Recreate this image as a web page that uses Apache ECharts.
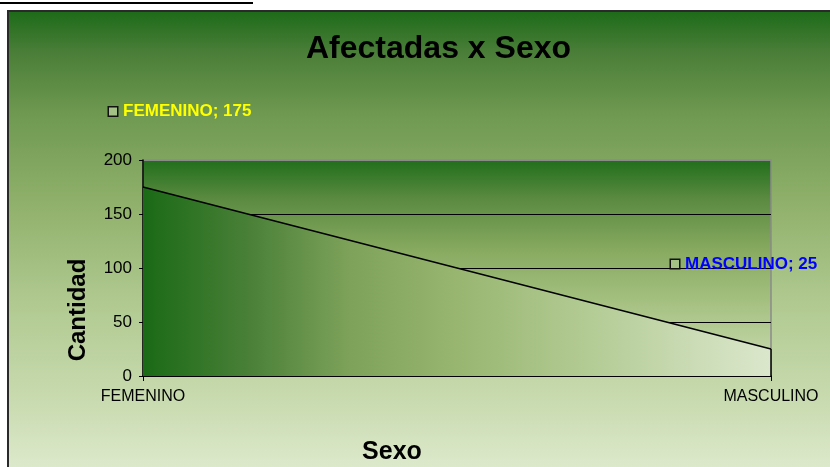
<!DOCTYPE html>
<html>
<head>
<meta charset="utf-8">
<script src="https://cdn.jsdelivr.net/npm/echarts@6/dist/echarts.min.js"></script>
<style>
html,body{margin:0;padding:0;background:#fff;width:830px;height:467px;overflow:hidden;}
#topline{position:absolute;left:0;top:2px;width:253px;height:2px;background:#000;}
#frame{position:absolute;left:7px;top:10px;width:840px;height:470px;box-sizing:border-box;border:2px solid #2a2a2a;
background:linear-gradient(to bottom,#1e6b1a 0px,#4a7e38 40px,#6e9850 100px,#8fb06a 190px,#b0c990 290px,#c9dbb0 390px,#dde9cc 457px);}
#chart{position:absolute;left:0;top:0;width:830px;height:467px;}
</style>
</head>
<body>
<div id="topline"></div>
<div id="frame"></div>
<div id="chart"></div>
<script>
const titleText = 'Afectadas x Sexo';
const xAxisName = 'Sexo';
const yAxisName = 'Cantidad';
const categories = ['FEMENINO', 'MASCULINO'];
const values = [175, 25];
const yTicks = [0, 50, 100, 150, 200];

const labelColors = ['#ffff00', '#0000ff'];
const labelOffsets = [[-34, -75.5], [-100, -85]];

const chart = echarts.init(document.getElementById('chart'), null, {renderer: 'canvas'});

const seriesData = values.map((v, i) => ({
  value: v,
  label: {
    show: true,
    position: 'inside',
    align: 'left',
    verticalAlign: 'middle',
    offset: labelOffsets[i],
    formatter: '{box|}{sp|}{t|' + categories[i] + '; ' + v + '}',
    rich: {
      box: {width: 8, height: 8, borderColor: '#111', borderWidth: 1.5, backgroundColor: '#a4c286'},
      sp: {width: 6},
      t: {color: labelColors[i], fontFamily: 'Liberation Sans, Arial, sans-serif', fontWeight: 'bold', fontSize: 17}
    }
  }
}));

const last = categories.length - 1;

const option = {
  animation: false,
  backgroundColor: 'transparent',
  title: {
    text: titleText,
    left: 306, top: 33, padding: 0,
    textStyle: {fontFamily: 'Liberation Sans, Arial, sans-serif', fontWeight: 'bold', fontSize: 32, color: '#000'}
  },
  grid: {
    left: 143, right: 59, top: 160, bottom: 91,
    show: true,
    borderColor: '#8a8a8a', borderWidth: 1.5,
    backgroundColor: new echarts.graphic.LinearGradient(0, 0, 0, 1, [
      {offset: 0, color: '#1f6e1b'},
      {offset: 0.18, color: '#5a8a40'},
      {offset: 0.42, color: '#87aa60'},
      {offset: 0.65, color: '#a4c080'},
      {offset: 0.88, color: '#c0d4a4'},
      {offset: 1, color: '#cddcb8'}
    ])
  },
  xAxis: {
    type: 'category',
    data: categories,
    boundaryGap: false,
    axisLine: {show: true, lineStyle: {color: '#000', width: 1.5}},
    axisTick: {show: true, length: 5, lineStyle: {color: '#000'}},
    axisLabel: {color: '#000', fontFamily: 'Liberation Sans Narrow, Arial Narrow, Liberation Sans, sans-serif', fontSize: 16, margin: 13},
    splitLine: {show: false}
  },
  yAxis: {
    type: 'value',
    min: 0, max: 200, interval: 50,
    axisLine: {show: true, lineStyle: {color: '#000', width: 1.5}},
    axisTick: {show: true, length: 4, lineStyle: {color: '#000'}},
    axisLabel: {color: '#000', fontFamily: 'Liberation Sans, Arial, sans-serif', fontSize: 17, margin: 11,
      formatter: v => (yTicks.indexOf(v) >= 0 ? String(v) : '')},
    splitLine: {show: true, lineStyle: {color: ['#000', '#000', '#000', '#000', '#8a8a8a'], width: 1}}
  },
  graphic: [
    {type: 'text', x: 78, y: 310, rotation: Math.PI / 2, z: 10,
      style: {text: yAxisName, fill: '#000', font: 'bold 24px Liberation Sans, Arial, sans-serif', align: 'center', verticalAlign: 'middle'}},
    {type: 'text', x: 392, y: 452, z: 10,
      style: {text: xAxisName, fill: '#000', font: 'bold 25px Liberation Sans, Arial, sans-serif', align: 'center', verticalAlign: 'middle'}}
  ],
  series: [{
    type: 'line',
    data: seriesData,
    symbol: 'circle',
    symbolSize: 1,
    showSymbol: true,
    itemStyle: {color: 'rgba(0,0,0,0)'},
    lineStyle: {color: '#000', width: 1.5},
    areaStyle: {
      opacity: 1,
      color: new echarts.graphic.LinearGradient(0, 0, 1, 0, [
        {offset: 0, color: '#1a6a16'},
        {offset: 0.17, color: '#4a8038'},
        {offset: 0.33, color: '#7ea25a'},
        {offset: 0.5, color: '#98b670'},
        {offset: 0.72, color: '#b4cc96'},
        {offset: 0.88, color: '#cbdcb6'},
        {offset: 1, color: '#dbe7cc'}
      ])
    },
    markLine: {
      silent: true,
      symbol: ['none', 'none'],
      label: {show: false},
      lineStyle: {color: '#000', width: 1.5, type: 'solid'},
      data: [[{coord: [categories[last], values[last]]}, {coord: [categories[last], 0]}]]
    },
    emphasis: {disabled: true},
    z: 3
  }]
};
chart.setOption(option);
</script>
</body>
</html>
